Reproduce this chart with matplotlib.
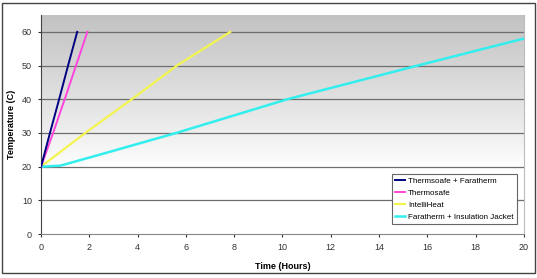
import numpy as np
import matplotlib
matplotlib.use('Agg')
import matplotlib.pyplot as plt
from matplotlib.patches import Rectangle

plt.rcParams['font.family'] = ['Liberation Sans', 'DejaVu Sans']

# 数据
x_tf = [0, 0.37, 0.75, 1.12, 1.5]
y_tf = [20, 30, 40, 50, 60]
x_ts = [0, 0.5, 0.98, 1.45, 1.92]
y_ts = [20, 30, 40, 50, 60]
x_ih = [0, 1.83, 3.76, 5.63, 7.84]
y_ih = [20, 30, 40, 50, 60]
x_fj = [0, 0.8, 2.45, 5.6, 10.2, 15.6, 20]
y_fj = [20, 20.3, 23.6, 30, 40, 50, 58]

labels = ['Thermsoafe + Faratherm', 'Thermosafe', 'IntelliHeat',
          'Faratherm + Insulation Jacket']
colors = ['#000080', '#ff44dd', '#f4f450', '#33eeee']

fig = plt.figure(figsize=(5.37, 2.78), dpi=100)
fig.patch.set_facecolor('white')
# 外框
fig.patches.append(Rectangle((0.004, 0.018), 0.992, 0.97, transform=fig.transFigure,
                             fill=False, edgecolor='#444444', lw=1))

ax = fig.add_axes([0.0764, 0.158, 0.899, 0.788])
ax.set_xlim(0, 20)
ax.set_ylim(0, 65)

# 渐变背景
grad = np.linspace(0, 1, 256).reshape(-1, 1)
shade = np.clip((grad - 0.3) / 0.7, 0, 1)
vals = 1.0 - 0.24 * shade ** 0.9
img = np.dstack([vals, vals, vals])
ax.imshow(img, extent=[0, 20, 0, 65], origin='lower', aspect='auto', zorder=0)

for yv in range(10, 70, 10):
    ax.axhline(yv, color='#6e6e6e', lw=0.9, zorder=1)

ax.plot(x_tf, y_tf, color=colors[0], lw=1.4, label=labels[0], zorder=5)
ax.plot(x_ts, y_ts, color=colors[1], lw=1.4, label=labels[1], zorder=4)
ax.plot(x_ih, y_ih, color=colors[2], lw=1.6, label=labels[2], zorder=3)
ax.plot(x_fj, y_fj, color=colors[3], lw=1.8, label=labels[3], zorder=3)

ax.set_xticks(range(0, 21, 2))
ax.set_yticks(range(0, 61, 10))
ax.tick_params(labelsize=6.5, colors='#333333', length=2.5, width=0.8, pad=4)
ax.spines['top'].set_visible(False)
ax.spines['right'].set_color('#bbbbbb')
ax.spines['left'].set_color('#444444')
ax.spines['bottom'].set_color('#888888')

ax.set_xlabel('Time (Hours)', fontsize=6.5, fontweight='bold', labelpad=7)
ax.set_ylabel('Temperature (C)', fontsize=6.5, fontweight='bold', labelpad=4)

leg = ax.legend(loc='lower right', bbox_to_anchor=(0.985, 0.046), fontsize=5.8,
                frameon=True, fancybox=False, handlelength=1.3,
                handletextpad=0.3, borderpad=0.4, labelspacing=0.55,
                borderaxespad=0)
leg.get_frame().set_edgecolor('#666666')
leg.get_frame().set_linewidth(0.8)
leg.get_frame().set_facecolor('white')
leg.get_frame().set_alpha(1)

fig.savefig('out.png', dpi=100)
